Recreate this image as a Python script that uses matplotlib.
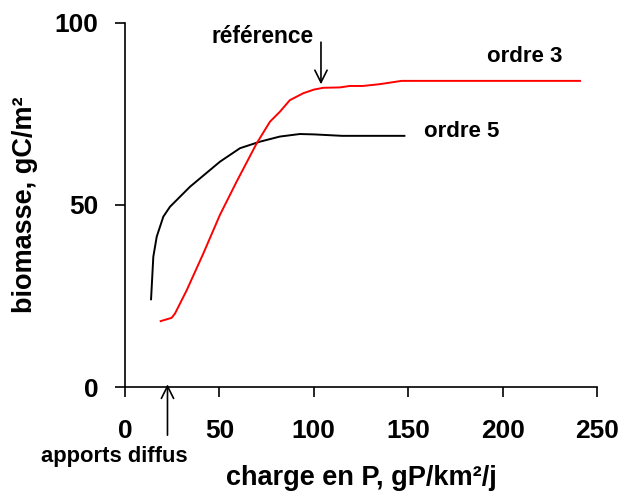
import matplotlib
matplotlib.use("Agg")
import matplotlib.pyplot as plt

plt.rcParams['font.family'] = ['Liberation Sans', 'DejaVu Sans']
plt.rcParams['font.weight'] = 'bold'

# ordre 5 (black)
x_ordre5 = [13.8, 15.0, 16.8, 20.3, 23.8, 34.4, 45.0, 50.3, 60.9, 71.5, 82.0, 92.6, 100.0, 115.0, 148.0]
y_ordre5 = [24.1, 35.8, 41.3, 46.8, 49.5, 55.0, 59.6, 61.9, 65.6, 67.4, 68.8, 69.5, 69.4, 69.0, 69.0]

# ordre 3 (red)
x_ordre3 = [18.9, 24.7, 26.5, 32.7, 41.5, 50.3, 59.1, 69.7, 76.8, 82.0, 87.3, 94.4, 100.0, 105.0,
            113.8, 119.0, 126.0, 135.0, 146.5, 241.0]
y_ordre3 = [18.1, 19.0, 20.2, 26.6, 36.7, 47.3, 56.4, 66.9, 72.9, 75.6, 78.8, 80.7, 81.7, 82.2,
            82.3, 82.7, 82.7, 83.2, 84.1, 84.1]

x_ticks = [0, 50, 100, 150, 200, 250]
y_ticks = [0, 50, 100]

fig = plt.figure(figsize=(6.29, 4.94), dpi=100)
ax = fig.add_axes([125 / 629, 1 - 387 / 494, (597 - 125) / 629, (387 - 23) / 494])

ax.plot(x_ordre5, y_ordre5, color='black', lw=1.4)
ax.plot(x_ordre3, y_ordre3, color='red', lw=1.4)

ax.set_xlim(0, 250)
ax.set_ylim(0, 100)
ax.set_xticks(x_ticks)
ax.set_yticks(y_ticks)
ax.spines['top'].set_visible(False)
ax.spines['right'].set_visible(False)
ax.spines['left'].set_linewidth(1.2)
ax.spines['bottom'].set_linewidth(1.2)
ax.tick_params(axis='x', direction='out', length=7, width=1.2, pad=16, labelsize=19)
ax.tick_params(axis='y', direction='out', length=7, width=1.2, pad=12, labelsize=19)

ax.set_xlabel('charge en P, gP/km²/j', fontsize=19.5, fontweight='bold', labelpad=16)
ax.set_ylabel('biomasse, gC/m²', fontsize=19.5, fontweight='bold', labelpad=12)

# labels for the curves
ax.text(191.6, 90.7, 'ordre 3', fontsize=16, fontweight='bold', va='center', ha='left')
ax.text(158.3, 70.1, 'ordre 5', fontsize=16, fontweight='bold', va='center', ha='left')

# reference arrow
ax.text(72.8, 96.2, 'référence', fontsize=16.4, fontweight='bold', va='center', ha='center')
ax.annotate('', xy=(103.8, 82.4), xytext=(103.8, 95.5),
            arrowprops=dict(arrowstyle='->', lw=1.2, color='black', mutation_scale=22))

# apports diffus arrow
ax.annotate('', xy=(22.5, 1.5), xytext=(22.5, -14.0),
            arrowprops=dict(arrowstyle='->', lw=1.2, color='black', mutation_scale=22),
            annotation_clip=False)
ax.text(-5.8, -19.2, 'apports diffus', fontsize=15.8, fontweight='bold', va='center', ha='center',
        clip_on=False)

fig.savefig('out.png', dpi=100)
